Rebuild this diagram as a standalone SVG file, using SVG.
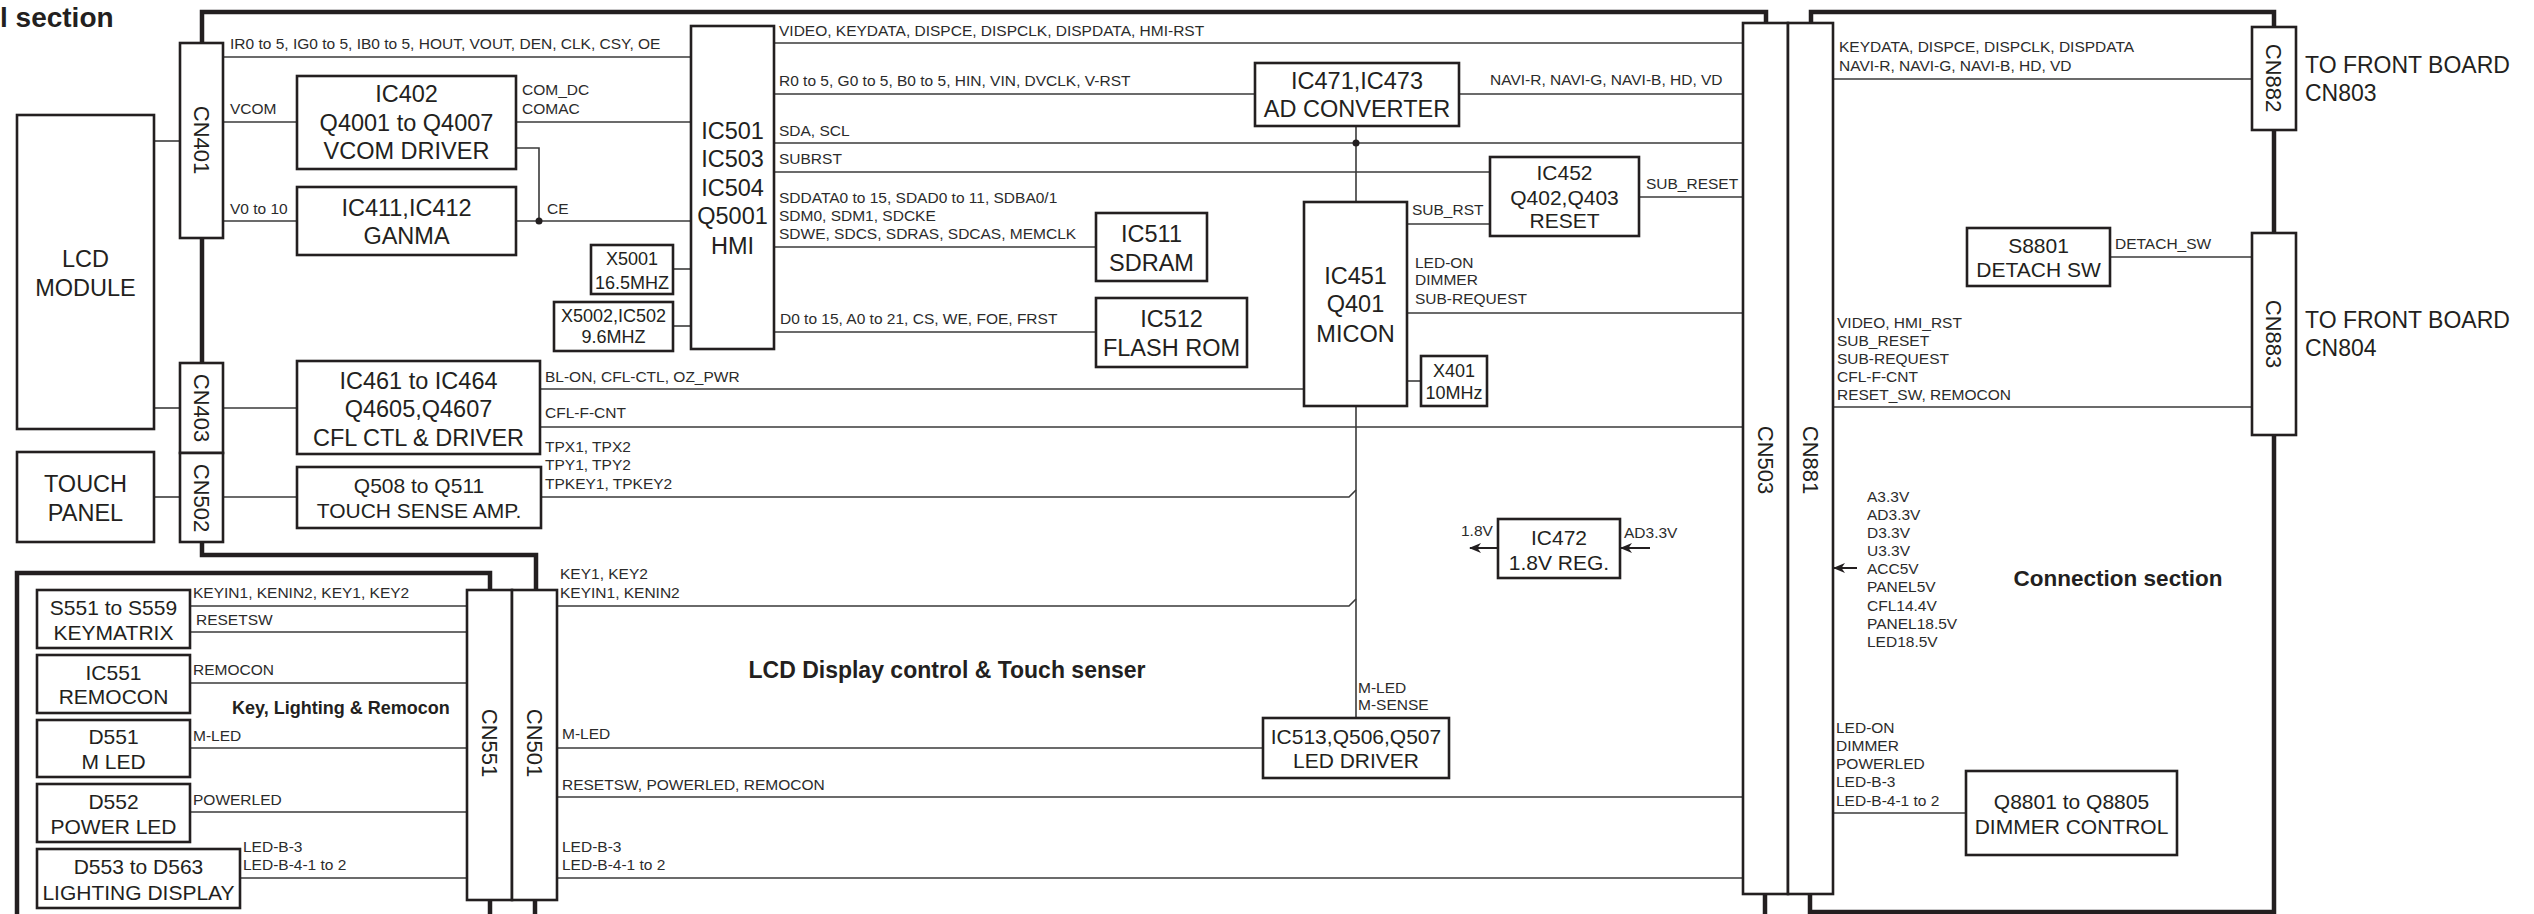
<svg xmlns="http://www.w3.org/2000/svg" width="2534" height="914" viewBox="0 0 2534 914">
<defs>
<style>
.box{fill:#fff;stroke:#231f20;stroke-width:2.6}
.wire{fill:none;stroke:#3a3a3a;stroke-width:1.6}
.border{fill:none;stroke:#231f20;stroke-width:4.5}
text{font-family:'Liberation Sans',Arial,Helvetica,sans-serif;fill:#231f20}
.s{font-size:15.5px;fill:#2b2b2b}
.L{font-size:23.5px;text-anchor:middle}
.M{font-size:21px;text-anchor:middle}
.X{font-size:18px;text-anchor:middle}
.cn{font-size:22px;text-anchor:middle}
.bold{font-weight:bold}
.dot{fill:#231f20}
</style>
<marker id="arr" viewBox="0 0 12 10" refX="11" refY="5" markerWidth="12" markerHeight="10" markerUnits="userSpaceOnUse" orient="auto">
<path d="M0,0 L12,5 L0,10 L3.5,5 z" fill="#231f20"/>
</marker>
</defs>
<rect width="2534" height="914" fill="#fff"/>

<g id="sections">
<text x="0" y="27" class="bold" style="font-size:28px">l section</text>
<polyline class="border" points="202,43 202,12 1766,12 1766,23"/>
<polyline class="border" points="202,238 202,363"/>
<polyline class="border" points="202,542 202,555 536,555 536,590"/>
<polyline class="border" points="17,914 17,573 490,573 490,590"/>
<polyline class="border" points="490,900 490,914"/>
<polyline class="border" points="535,900 535,914"/>
<polyline class="border" points="1765,894 1765,914"/>
<polyline class="border" points="1811,23 1811,12 2274,12 2274,27"/>
<polyline class="border" points="2274,130 2274,233"/>
<polyline class="border" points="2274,435 2274,912 1810,912 1810,894"/>
<text x="947" y="678" class="bold" style="font-size:23px;text-anchor:middle">LCD Display control &amp; Touch senser</text>
<text x="232" y="713.5" class="bold" style="font-size:18px">Key, Lighting &amp; Remocon</text>
<text x="2118" y="586" class="bold" style="font-size:22.5px;text-anchor:middle">Connection section</text>
<text x="2305" y="73" style="font-size:23px">TO FRONT BOARD</text>
<text x="2305" y="101" style="font-size:23px">CN803</text>
<text x="2305" y="328" style="font-size:23px">TO FRONT BOARD</text>
<text x="2305" y="356" style="font-size:23px">CN804</text>
</g>

<g id="connectors">
<polyline class="wire" points="223,57 691,57"/>
<polyline class="wire" points="154,141 180,141"/>
<polyline class="wire" points="223,122 297,122"/>
<polyline class="wire" points="516,122 691,122"/>
<polyline class="wire" points="516,148 539,148 539,221"/>
<polyline class="wire" points="223,221 297,221"/>
<polyline class="wire" points="516,221 691,221"/>
<circle class="dot" cx="539" cy="221" r="3.5"/>
<polyline class="wire" points="673,269 691,269"/>
<polyline class="wire" points="673,326 691,326"/>
<polyline class="wire" points="774,43 1743,43"/>
<polyline class="wire" points="774,94 1255,94"/>
<polyline class="wire" points="1459,94 1743,94"/>
<polyline class="wire" points="774,143 1743,143"/>
<polyline class="wire" points="1356,126 1356,202"/>
<circle class="dot" cx="1356" cy="143" r="3.5"/>
<polyline class="wire" points="774,172 1490,172"/>
<polyline class="wire" points="1639,197 1743,197"/>
<polyline class="wire" points="1407,224 1490,224"/>
<polyline class="wire" points="774,247 1096,247"/>
<polyline class="wire" points="1407,313 1743,313"/>
<polyline class="wire" points="774,332 1096,332"/>
<polyline class="wire" points="1407,381 1421,381"/>
<polyline class="wire" points="540,389 1304,389"/>
<polyline class="wire" points="154,408 180,408"/>
<polyline class="wire" points="223,408 297,408"/>
<polyline class="wire" points="540,427 1743,427"/>
<polyline class="wire" points="154,497 180,497"/>
<polyline class="wire" points="223,497 297,497"/>
<polyline class="wire" points="541,497 1349,497 1356,490"/>
<polyline class="wire" points="557,606 1349,606 1356,599"/>
<polyline class="wire" points="1356,406 1356,718"/>
<polyline class="wire" points="557,748 1263,748"/>
<polyline class="wire" points="557,797 1743,797"/>
<polyline class="wire" points="557,878 1743,878"/>
<polyline class="wire" points="190,606 467,606"/>
<polyline class="wire" points="190,632 467,632"/>
<polyline class="wire" points="190,683 467,683"/>
<polyline class="wire" points="190,748 467,748"/>
<polyline class="wire" points="190,812 467,812"/>
<polyline class="wire" points="240,878 467,878"/>
<polyline class="wire" points="1833,79 2252,79"/>
<polyline class="wire" points="2110,257 2252,257"/>
<polyline class="wire" points="1833,407 2252,407"/>
<polyline class="wire" points="1833,813 1966,813"/>
<line class="wire" x1="1498" y1="548" x2="1470" y2="548" marker-end="url(#arr)" style="stroke:#231f20;stroke-width:2"/>
<line class="wire" x1="1650" y1="548" x2="1621" y2="548" marker-end="url(#arr)" style="stroke:#231f20;stroke-width:2"/>
<line class="wire" x1="1857" y1="568" x2="1834" y2="568" marker-end="url(#arr)" style="stroke:#231f20;stroke-width:2"/>

<text class="s" x="230" y="48.5">IR0 to 5, IG0 to 5, IB0 to 5, HOUT, VOUT, DEN, CLK, CSY, OE</text>
<text class="s" x="230" y="113.5">VCOM</text>
<text class="s" x="522" y="94.5">COM_DC</text>
<text class="s" x="522" y="113.5">COMAC</text>
<text class="s" x="230" y="213.5">V0 to 10</text>
<text class="s" x="547" y="213.5">CE</text>
<text class="s" x="779" y="35.5">VIDEO, KEYDATA, DISPCE, DISPCLK, DISPDATA, HMI-RST</text>
<text class="s" x="779" y="85.5">R0 to 5, G0 to 5, B0 to 5, HIN, VIN, DVCLK, V-RST</text>
<text class="s" x="779" y="135.5">SDA, SCL</text>
<text class="s" x="779" y="163.5">SUBRST</text>
<text class="s" x="779" y="202.5">SDDATA0 to 15, SDAD0 to 11, SDBA0/1</text>
<text class="s" x="779" y="220.5">SDM0, SDM1, SDCKE</text>
<text class="s" x="779" y="238.5">SDWE, SDCS, SDRAS, SDCAS, MEMCLK</text>
<text class="s" x="780" y="323.5">D0 to 15, A0 to 21, CS, WE, FOE, FRST</text>
<text class="s" x="1490" y="84.5">NAVI-R, NAVI-G, NAVI-B, HD, VD</text>
<text class="s" x="1646" y="188.5">SUB_RESET</text>
<text class="s" x="1412" y="214.5">SUB_RST</text>
<text class="s" x="1415" y="267.5">LED-ON</text>
<text class="s" x="1415" y="284.5">DIMMER</text>
<text class="s" x="1415" y="303.5">SUB-REQUEST</text>
<text class="s" x="545" y="381.5">BL-ON, CFL-CTL, OZ_PWR</text>
<text class="s" x="545" y="417.5">CFL-F-CNT</text>
<text class="s" x="545" y="451.5">TPX1, TPX2</text>
<text class="s" x="545" y="469.5">TPY1, TPY2</text>
<text class="s" x="545" y="488.5">TPKEY1, TPKEY2</text>
<text class="s" x="560" y="578.5">KEY1, KEY2</text>
<text class="s" x="560" y="597.5">KEYIN1, KENIN2</text>
<text class="s" x="562" y="738.5">M-LED</text>
<text class="s" x="562" y="789.5">RESETSW, POWERLED, REMOCON</text>
<text class="s" x="562" y="851.5">LED-B-3</text>
<text class="s" x="562" y="869.5">LED-B-4-1 to 2</text>
<text class="s" x="1358" y="692.5">M-LED</text>
<text class="s" x="1358" y="709.5">M-SENSE</text>
<text class="s" x="1461" y="535.5">1.8V</text>
<text class="s" x="1624" y="537.5">AD3.3V</text>
<text class="s" x="1839" y="52">KEYDATA, DISPCE, DISPCLK, DISPDATA</text>
<text class="s" x="1839" y="71">NAVI-R, NAVI-G, NAVI-B, HD, VD</text>
<text class="s" x="2115" y="248.5">DETACH_SW</text>
<text class="s" x="1837" y="327.5">VIDEO, HMI_RST</text>
<text class="s" x="1837" y="345.5">SUB_RESET</text>
<text class="s" x="1837" y="363.5">SUB-REQUEST</text>
<text class="s" x="1837" y="381.5">CFL-F-CNT</text>
<text class="s" x="1837" y="399.5">RESET_SW, REMOCON</text>
<text class="s" x="1867" y="501.5">A3.3V</text>
<text class="s" x="1867" y="519.5">AD3.3V</text>
<text class="s" x="1867" y="537.5">D3.3V</text>
<text class="s" x="1867" y="555.5">U3.3V</text>
<text class="s" x="1867" y="573.5">ACC5V</text>
<text class="s" x="1867" y="592">PANEL5V</text>
<text class="s" x="1867" y="610.5">CFL14.4V</text>
<text class="s" x="1867" y="628.5">PANEL18.5V</text>
<text class="s" x="1867" y="647">LED18.5V</text>
<text class="s" x="1836" y="732.5">LED-ON</text>
<text class="s" x="1836" y="750.5">DIMMER</text>
<text class="s" x="1836" y="768.5">POWERLED</text>
<text class="s" x="1836" y="787">LED-B-3</text>
<text class="s" x="1836" y="805.5">LED-B-4-1 to 2</text>
<text class="s" x="193" y="597.5">KEYIN1, KENIN2, KEY1, KEY2</text>
<text class="s" x="196" y="624.5">RESETSW</text>
<text class="s" x="193" y="674.5">REMOCON</text>
<text class="s" x="193" y="740.5">M-LED</text>
<text class="s" x="193" y="804.5">POWERLED</text>
<text class="s" x="243" y="851.5">LED-B-3</text>
<text class="s" x="243" y="869.5">LED-B-4-1 to 2</text>
</g>

<g id="lcd-module"><rect class="box" x="17" y="115" width="137" height="314"/>
<text class="L" x="85.5" y="266.5">LCD</text><text class="L" x="85.5" y="295.5">MODULE</text></g>
<g id="touch-panel"><rect class="box" x="17" y="452" width="137" height="90"/>
<text class="L" x="85.5" y="491.5">TOUCH</text><text class="L" x="85.5" y="520.5">PANEL</text></g>

<g id="cn401"><rect class="box" x="180" y="43" width="43" height="195"/>
<text class="cn" transform="translate(201.5,140) rotate(90)" dy="8">CN401</text></g>
<g id="cn403"><rect class="box" x="180" y="363" width="43" height="90"/>
<text class="cn" transform="translate(201.5,408) rotate(90)" dy="8">CN403</text></g>
<g id="cn502"><rect class="box" x="180" y="453" width="43" height="89"/>
<text class="cn" transform="translate(201.5,498) rotate(90)" dy="8">CN502</text></g>

<g id="ic402"><rect class="box" x="297" y="76" width="219" height="93"/>
<text class="L" x="406.5" y="101.5">IC402</text><text class="L" x="406.5" y="130.5">Q4001 to Q4007</text><text class="L" x="406.5" y="158.5">VCOM DRIVER</text></g>
<g id="ic411"><rect class="box" x="297" y="187" width="219" height="68"/>
<text class="L" x="406.5" y="215.5">IC411,IC412</text><text class="L" x="406.5" y="243.5">GANMA</text></g>
<g id="ic461"><rect class="box" x="297" y="361" width="243" height="93"/>
<text class="L" x="418.5" y="388.5">IC461 to IC464</text><text class="L" x="418.5" y="416.5">Q4605,Q4607</text><text class="L" x="418.5" y="445.5">CFL CTL &amp; DRIVER</text></g>
<g id="q508"><rect class="box" x="297" y="467" width="244" height="61"/>
<text class="M" x="419" y="492.5">Q508 to Q511</text><text class="M" x="419" y="517.5">TOUCH SENSE AMP.</text></g>

<g id="x5001"><rect class="box" x="591" y="245" width="82" height="49"/>
<text class="X" x="632" y="264.5">X5001</text><text class="X" x="632" y="288.5">16.5MHZ</text></g>
<g id="x5002"><rect class="box" x="554" y="302" width="119" height="49"/>
<text class="X" x="613.5" y="321.5">X5002,IC502</text><text class="X" x="613.5" y="342.5">9.6MHZ</text></g>

<g id="ic501"><rect class="box" x="691" y="26" width="83" height="323"/>
<text class="L" x="732.5" y="138.5">IC501</text><text class="L" x="732.5" y="166.5">IC503</text><text class="L" x="732.5" y="195.5">IC504</text><text class="L" x="732.5" y="223.5">Q5001</text><text class="L" x="732.5" y="253.5">HMI</text></g>

<g id="ic511"><rect class="box" x="1096" y="213" width="111" height="68"/>
<text class="L" x="1151.5" y="241.5">IC511</text><text class="L" x="1151.5" y="270.5">SDRAM</text></g>
<g id="ic512"><rect class="box" x="1096" y="298" width="151" height="69"/>
<text class="L" x="1171.5" y="326.5">IC512</text><text class="L" x="1171.5" y="355.5">FLASH ROM</text></g>

<g id="ic471"><rect class="box" x="1255" y="63" width="204" height="63"/>
<text class="L" x="1357" y="88.5">IC471,IC473</text><text class="L" x="1357" y="116.5">AD CONVERTER</text></g>
<g id="ic452"><rect class="box" x="1490" y="157" width="149" height="79"/>
<text class="M" x="1564.5" y="179.5">IC452</text><text class="M" x="1564.5" y="204.5">Q402,Q403</text><text class="M" x="1564.5" y="227.5">RESET</text></g>
<g id="ic451"><rect class="box" x="1304" y="202" width="103" height="204"/>
<text class="L" x="1355.5" y="283.5">IC451</text><text class="L" x="1355.5" y="311.5">Q401</text><text class="L" x="1355.5" y="341.5">MICON</text></g>
<g id="x401"><rect class="box" x="1421" y="356" width="66" height="50"/>
<text class="X" x="1454" y="376.5">X401</text><text class="X" x="1454" y="398.5">10MHz</text></g>
<g id="ic472"><rect class="box" x="1498" y="519" width="122" height="59"/>
<text class="M" x="1559" y="544.5">IC472</text><text class="M" x="1559" y="569.5">1.8V REG.</text></g>
<g id="ic513"><rect class="box" x="1263" y="718" width="186" height="60"/>
<text class="M" x="1356" y="743.5">IC513,Q506,Q507</text><text class="M" x="1356" y="767.5">LED DRIVER</text></g>

<g id="s551"><rect class="box" x="37" y="590" width="153" height="58"/>
<text class="M" x="113.5" y="614.5">S551 to S559</text><text class="M" x="113.5" y="639.5">KEYMATRIX</text></g>
<g id="ic551"><rect class="box" x="37" y="655" width="153" height="58"/>
<text class="M" x="113.5" y="679.5">IC551</text><text class="M" x="113.5" y="703.5">REMOCON</text></g>
<g id="d551"><rect class="box" x="37" y="720" width="153" height="57"/>
<text class="M" x="113.5" y="743.5">D551</text><text class="M" x="113.5" y="768.5">M LED</text></g>
<g id="d552"><rect class="box" x="37" y="784" width="153" height="58"/>
<text class="M" x="113.5" y="808.5">D552</text><text class="M" x="113.5" y="833.5">POWER LED</text></g>
<g id="d553"><rect class="box" x="37" y="849" width="203" height="59"/>
<text class="M" x="138.5" y="873.5">D553 to D563</text><text class="M" x="138.5" y="899.5">LIGHTING DISPLAY</text></g>

<g id="cn551"><rect class="box" x="467" y="590" width="45" height="310"/>
<text class="cn" transform="translate(489.5,743) rotate(90)" dy="8">CN551</text></g>
<g id="cn501"><rect class="box" x="512" y="590" width="45" height="310"/>
<text class="cn" transform="translate(534.5,743) rotate(90)" dy="8">CN501</text></g>
<g id="cn503"><rect class="box" x="1743" y="23" width="45" height="871"/>
<text class="cn" transform="translate(1765.5,460) rotate(90)" dy="8">CN503</text></g>
<g id="cn881"><rect class="box" x="1788" y="23" width="45" height="871"/>
<text class="cn" transform="translate(1810.5,460) rotate(90)" dy="8">CN881</text></g>
<g id="cn882"><rect class="box" x="2252" y="27" width="44" height="103"/>
<text class="cn" transform="translate(2274,78) rotate(90)" dy="8">CN882</text></g>
<g id="cn883"><rect class="box" x="2252" y="233" width="44" height="202"/>
<text class="cn" transform="translate(2274,334) rotate(90)" dy="8">CN883</text></g>

<g id="s8801"><rect class="box" x="1967" y="228" width="143" height="58"/>
<text class="M" x="2038.5" y="252.5">S8801</text><text class="M" x="2038.5" y="276.5">DETACH SW</text></g>
<g id="q8801"><rect class="box" x="1966" y="771" width="211" height="84"/>
<text class="M" x="2071.5" y="808.5">Q8801 to Q8805</text><text class="M" x="2071.5" y="833.5">DIMMER CONTROL</text></g>
</svg>
